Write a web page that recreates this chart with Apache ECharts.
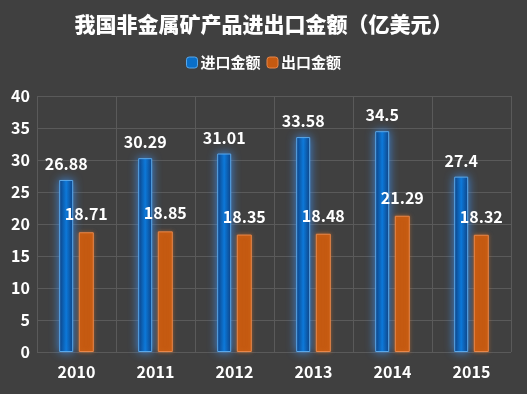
<!DOCTYPE html>
<html><head><meta charset="utf-8">
<script src="https://cdn.jsdelivr.net/npm/echarts@6/dist/echarts.min.js"></script>
<style>html,body{margin:0;padding:0;background:#404040;}#c{width:527px;height:394px;}</style>
</head><body><div id="c"></div>
<script>
const categories = ['2010','2011','2012','2013','2014','2015'];
const importValues = [26.88, 30.29, 31.01, 33.58, 34.5, 27.4];
const exportValues = [18.71, 18.85, 18.35, 18.48, 21.29, 18.32];
const yTicks = [0,5,10,15,20,25,30,35,40];

const font = '"Microsoft YaHei","Noto Sans CJK SC","Noto Sans",sans-serif';
const chart = echarts.init(document.getElementById('c'));
const blueGrad = new echarts.graphic.LinearGradient(0,0,1,0,[
  {offset:0,color:'#0b3a78'},{offset:0.5,color:'#0a78d8'},{offset:1,color:'#0b3a78'}]);
chart.setOption({
  backgroundColor:'#404040',
  animation:false,
  title:{text:'我国非金属矿产品进出口金额（亿美元）',left:'center',top:9,
    textStyle:{color:'#ffffff',fontSize:21,fontWeight:900,fontFamily:font}},
  legend:{top:50,left:'center',itemWidth:11,itemHeight:11,itemGap:6,
    textStyle:{color:'#ffffff',fontSize:15,fontWeight:'bold',fontFamily:font,padding:[0,0,0,-2]},
    data:[{name:'进口金额',itemStyle:{color:'#0a6fc8',borderColor:'#5aa8ea',borderWidth:1}},
          {name:'出口金额',itemStyle:{color:'#c55a11',borderColor:'#e8874a',borderWidth:1}}]},
  grid:{left:37,right:16,top:96,bottom:42},
  xAxis:{type:'category',data:categories,
    axisLine:{show:false},axisTick:{show:false},
    splitLine:{show:true,lineStyle:{color:'#5a5a5a',width:1}},
    axisLabel:{color:'#ffffff',fontSize:16,fontWeight:'bold',fontFamily:font,margin:12}},
  yAxis:{type:'value',min:yTicks[0],max:yTicks[yTicks.length-1],interval:5,
    axisLine:{show:false},axisTick:{show:false},
    splitLine:{lineStyle:{color:'#5a5a5a',width:1}},
    axisLabel:{color:'#ffffff',fontSize:16,fontWeight:'bold',fontFamily:font,margin:7,
      formatter:v=>yTicks.includes(v)?String(v):''}},
  series:[
    {name:'进口金额',type:'bar',data:importValues,barWidth:14,barGap:'40%',
     itemStyle:{color:blueGrad,borderColor:'#5aa8ea',borderWidth:1,shadowColor:'rgba(60,150,255,0.8)',shadowBlur:10},
     label:{show:true,position:'top',distance:8,color:'#ffffff',fontSize:16,fontWeight:'bold',fontFamily:font}},
    {name:'出口金额',type:'bar',data:exportValues,barWidth:15,
     itemStyle:{color:'#c55a11',borderColor:'#e8874a',borderWidth:1,shadowColor:'rgba(230,120,40,0.5)',shadowBlur:4},
     label:{show:true,position:'top',distance:10,color:'#ffffff',fontSize:16,fontWeight:'bold',fontFamily:font}}
  ]
});
</script></body></html>
